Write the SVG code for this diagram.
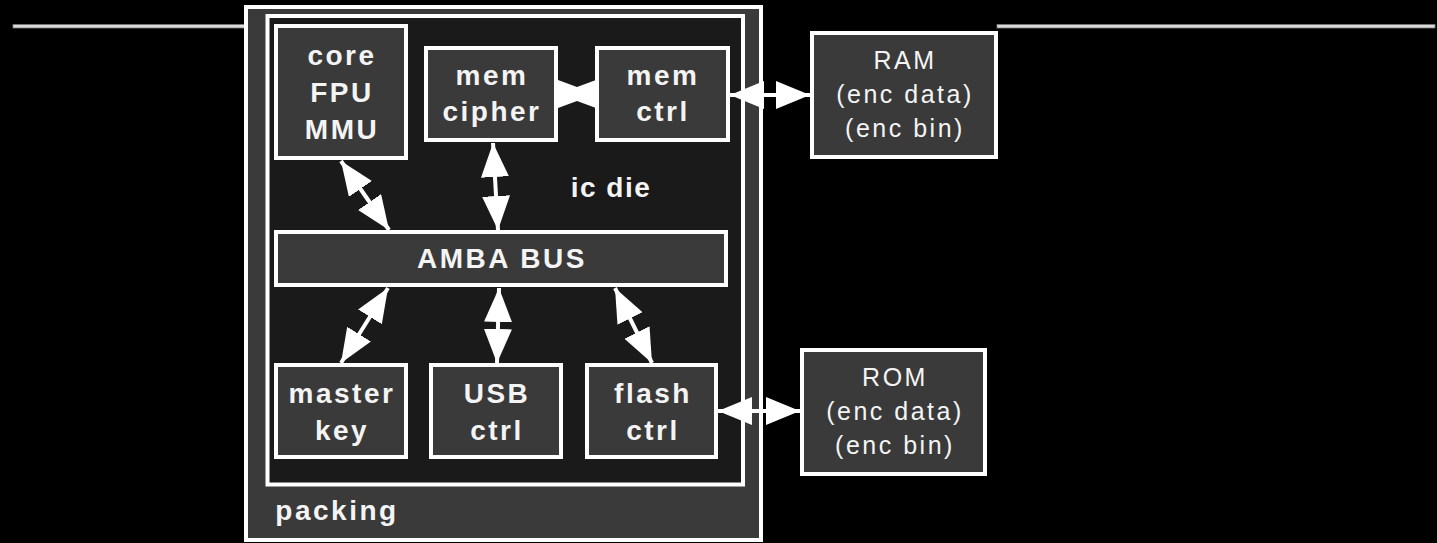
<svg xmlns="http://www.w3.org/2000/svg" width="1437" height="543" viewBox="0 0 1437 543">
<defs>
<style>
.box{fill:#3a3a3a;stroke:#ffffff;stroke-width:4}
.t{font-family:"Liberation Sans",Arial,sans-serif;font-weight:bold;font-size:28px;fill:#f4f4f4;text-anchor:middle;letter-spacing:2.5px}
.r{font-family:"Liberation Sans",Arial,sans-serif;font-size:25px;fill:#f4f4f4;text-anchor:middle;letter-spacing:2.5px}
.c{stroke:#ffffff;stroke-width:4;fill:none;marker-start:url(#ah);marker-end:url(#ah)}
.hl{fill:#dcdcdc;stroke:#7a7a7a;stroke-width:0.8}
</style>
<marker id="ah" viewBox="0 -14 34 28" refX="34" refY="0" markerWidth="34" markerHeight="28" markerUnits="userSpaceOnUse" orient="auto-start-reverse">
<path d="M0,-14 L34,0 L0,14 Z" fill="#ffffff"/>
</marker>
</defs>
<rect width="1437" height="543" fill="#000000"/>
<rect class="hl" x="13" y="24.5" width="232" height="3.5"/>
<rect class="hl" x="997" y="24.5" width="438" height="3.5"/>

<g id="packing">
<rect x="246" y="7" width="515" height="533" fill="#3a3a3a" stroke="#ffffff" stroke-width="4"/>
<text class="t" x="337" y="520">packing</text>
</g>
<g id="icdie">
<rect x="267.5" y="16" width="475.5" height="468.5" fill="#1a1a1a" stroke="#ffffff" stroke-width="4"/>
<text class="t" x="611" y="197" style="letter-spacing:1.5px">ic die</text>
</g>

<g id="core">
<rect class="box" x="276" y="26" width="130" height="132"/>
<text class="t" x="342" y="65">core</text>
<text class="t" x="342" y="102">FPU</text>
<text class="t" x="342" y="139">MMU</text>
</g>
<g id="memcipher">
<rect class="box" x="426" y="48" width="130" height="92"/>
<text class="t" x="492" y="85">mem</text>
<text class="t" x="492" y="121">cipher</text>
</g>
<g id="memctrl">
<rect class="box" x="597" y="48" width="131" height="92"/>
<text class="t" x="663" y="85">mem</text>
<text class="t" x="663" y="121">ctrl</text>
</g>
<g id="amba">
<rect class="box" x="276" y="232" width="450" height="53"/>
<text class="t" x="502" y="268">AMBA BUS</text>
</g>
<g id="masterkey">
<rect class="box" x="276" y="365" width="130" height="92"/>
<text class="t" x="342" y="403">master</text>
<text class="t" x="342" y="440">key</text>
</g>
<g id="usbctrl">
<rect class="box" x="431" y="365" width="130" height="92"/>
<text class="t" x="497" y="403">USB</text>
<text class="t" x="497" y="440">ctrl</text>
</g>
<g id="flashctrl">
<rect class="box" x="587" y="365" width="129" height="92"/>
<text class="t" x="653" y="403">flash</text>
<text class="t" x="653" y="440">ctrl</text>
</g>
<g id="ram">
<rect class="box" x="812" y="33" width="184" height="124"/>
<text class="r" x="905" y="69">RAM</text>
<text class="r" x="905" y="103">(enc data)</text>
<text class="r" x="905" y="137">(enc bin)</text>
</g>
<g id="rom">
<rect class="box" x="802" y="350" width="183" height="124"/>
<text class="r" x="895" y="386">ROM</text>
<text class="r" x="895" y="420">(enc data)</text>
<text class="r" x="895" y="454">(enc bin)</text>
</g>

<g id="connectors">
<line class="c" x1="341" y1="161" x2="389" y2="230"/>
<line class="c" x1="493" y1="143" x2="498" y2="230"/>
<polygon points="558,80 577,87 596,80 596,108 577,101 558,108" fill="#ffffff"/>
<line class="c" x1="730" y1="95" x2="810" y2="95"/>
<line class="c" x1="388" y1="288" x2="341" y2="363"/>
<line class="c" x1="499" y1="288" x2="497" y2="363"/>
<line class="c" x1="615" y1="288" x2="652" y2="363"/>
<line class="c" x1="718" y1="411" x2="800" y2="411"/>
</g>
</svg>
